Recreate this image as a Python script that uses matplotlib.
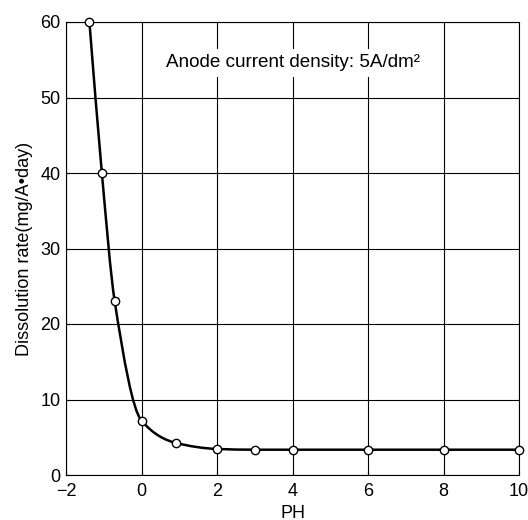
import numpy as np
import matplotlib
matplotlib.use("Agg")
import matplotlib.pyplot as plt
from matplotlib.path import Path
from matplotlib.patches import PathPatch

plt.rcParams['font.family'] = ['Liberation Sans', 'DejaVu Sans']

ph = [-1.38, -1.05, -0.71, 0.0, 0.91, 2.0, 3.0, 4.0, 6.0, 8.0, 10.0]
rate = [60.0, 40.0, 23.0, 7.2, 4.25, 3.45, 3.35, 3.35, 3.35, 3.35, 3.35]
xticks = [-2, 0, 2, 4, 6, 8, 10]
yticks = [0, 10, 20, 30, 40, 50, 60]
note = "Anode current density: 5A/dm\u00b2"


def pchip_slopes(x, y):
    x = np.asarray(x, float); y = np.asarray(y, float)
    h = np.diff(x); d = np.diff(y) / h
    m = np.zeros_like(y)
    for k in range(1, len(x) - 1):
        if d[k - 1] * d[k] <= 0:
            m[k] = 0
        else:
            w1 = 2 * h[k] + h[k - 1]; w2 = h[k] + 2 * h[k - 1]
            m[k] = (w1 + w2) / (w1 / d[k - 1] + w2 / d[k])
    m[0] = d[0]; m[-1] = d[-1]
    return m


fig = plt.figure(figsize=(5.28, 5.20), dpi=100)
ax = fig.add_axes([66 / 528, 45 / 520, (519 - 66) / 528, (475 - 22) / 520])

# smooth curve through the points as cubic Bezier path
m = pchip_slopes(ph, rate)
verts = [(ph[0], rate[0])]
codes = [Path.MOVETO]
for k in range(len(ph) - 1):
    h = ph[k + 1] - ph[k]
    verts += [(ph[k] + h / 3, rate[k] + m[k] * h / 3),
              (ph[k + 1] - h / 3, rate[k + 1] - m[k + 1] * h / 3),
              (ph[k + 1], rate[k + 1])]
    codes += [Path.CURVE4] * 3
ax.add_patch(PathPatch(Path(verts, codes), facecolor='none', edgecolor='black',
                       lw=1.8, zorder=3))
ax.plot(ph, rate, linestyle='none', marker='o', markersize=6,
        markerfacecolor='white', markeredgecolor='black', markeredgewidth=1.0,
        zorder=4, clip_on=False)

ax.set_xlim(-2, 10)
ax.set_ylim(0, 60)
ax.set_xticks(xticks)
ax.set_xticklabels([str(t).replace('-', '\u2212') for t in xticks])
ax.set_yticks(yticks)
ax.grid(True, color='black', lw=0.8)
ax.set_axisbelow(True)
ax.tick_params(direction='in', length=3, labelsize=13, colors='black')
ax.tick_params(axis='x', pad=6)
ax.tick_params(axis='y', pad=4)
for s in ax.spines.values():
    s.set_color('black'); s.set_linewidth(0.8)

ax.set_xlabel('PH', fontsize=13, labelpad=3)
ax.set_ylabel('Dissolution rate(mg/A\u2022day)', fontsize=13, labelpad=5)

ax.text(4.0, 54.6, note, ha='center', va='center', fontsize=13.6, zorder=5,
        bbox=dict(facecolor='white', edgecolor='none', pad=4))

fig.savefig('out.png', dpi=100)
